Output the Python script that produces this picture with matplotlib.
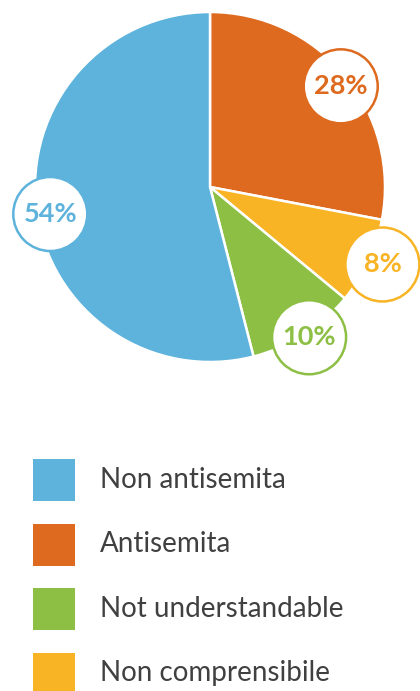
import matplotlib.pyplot as plt
import numpy as np
from matplotlib.patches import Circle, Rectangle

# legend order
labels = ['Non antisemita', 'Antisemita', 'Not understandable', 'Non comprensibile']
values = [54, 28, 10, 8]
colors = ['#5DB3DC', '#DD6A1F', '#8DBF45', '#F8B425']

# order of slices clockwise from the top
pie_order = [1, 3, 2, 0]

# label bubble placement (pixels from centre, angle nudge in degrees)
label_r = {0: 162, 1: 165, 2: 180, 3: 189}
label_nudge = {0: -2.4, 1: 2, 2: -1, 3: -1}

plt.rcParams['font.family'] = ['Lato', 'DejaVu Sans']

W, H = 420, 691
fig = plt.figure(figsize=(W / 100, H / 100), dpi=100)
ax = fig.add_axes([0, 0, 1, 1])

cx, cy, R = 210, H - 187, 175
pv = [values[i] for i in pie_order]
pc = [colors[i] for i in pie_order]
ax.pie(pv, colors=pc, startangle=90, counterclock=False, center=(cx, cy), radius=R,
       wedgeprops=dict(edgecolor='white', linewidth=1.8))

# percentage bubbles
total = float(sum(values))
start = 0.0
for i in pie_order:
    frac = values[i] / total
    mid = (start + frac / 2) * 360 + label_nudge[i]
    start += frac
    a = np.radians(mid)
    x = cx + label_r[i] * np.sin(a)
    y = cy + label_r[i] * np.cos(a)
    ax.add_patch(Circle((x, y), 37, facecolor='white', edgecolor=colors[i], linewidth=1.8, zorder=5))
    ax.text(x, y, '%d%%' % values[i], color=colors[i], fontsize=19.5, fontweight='bold',
            ha='center', va='center', zorder=6)

# legend
for k, (lab, col) in enumerate(zip(labels, colors)):
    yc = H - 480 - k * 64.5
    ax.add_patch(Rectangle((33, yc - 21), 42, 42, facecolor=col, edgecolor='none'))
    ax.text(100, yc, lab, color='#404040', fontsize=20, ha='left', va='center')

ax.set_xlim(0, W)
ax.set_ylim(0, H)
ax.set_aspect('equal')
ax.axis('off')

plt.savefig('out.png', dpi=100)
